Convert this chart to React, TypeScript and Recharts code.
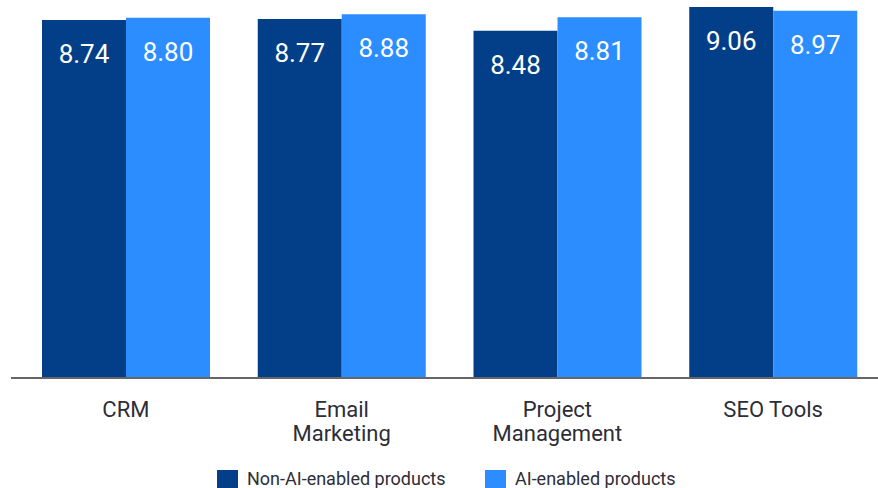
import React from 'react';
import { BarChart, Bar, XAxis, YAxis, Legend, LabelList } from 'recharts';

const categories = ['CRM', 'Email Marketing', 'Project Management', 'SEO Tools'];
const nonAiScores = [8.74, 8.77, 8.48, 9.06];
const aiScores = [8.8, 8.88, 8.81, 8.97];
const seriesNames = ['Non-AI-enabled products', 'AI-enabled products'];

const DARK = '#023f88';
const LIGHT = '#2b8dff';
const TEXT = '#2d2d38';
const FONT = 'Roboto, "Noto Sans", sans-serif';

const data = categories.map((name, i) => ({
  name,
  nonAi: nonAiScores[i],
  ai: aiScores[i]
}));

function CategoryTick(props: any) {
  const { x, y, payload } = props;
  const words = String(payload.value).split(' ');
  const lines = words.length > 1 && payload.value !== 'SEO Tools' ? words : [payload.value];
  return (
    <text x={x} y={y} textAnchor="middle" fill={TEXT} fontSize={22} fontFamily={FONT}>
      {lines.map((l: string, i: number) => (
        <tspan key={i} x={x} dy={i === 0 ? 39 : 24}>
          {l}
        </tspan>
      ))}
    </text>
  );
}

function ValueLabel(props: any) {
  const { x, y, width, value } = props;
  return (
    <text
      x={x + width / 2}
      y={y + 34}
      textAnchor="middle"
      dominantBaseline="central"
      fill="#ffffff"
      fontSize={26}
      fontFamily={FONT}
    >
      {Number(value).toFixed(2)}
    </text>
  );
}

function ChartLegend() {
  const items = [
    { label: seriesNames[0], color: DARK, width: 268 },
    { label: seriesNames[1], color: LIGHT, width: 220 }
  ];
  return (
    <div
      style={{
        display: 'flex',
        height: 36,
        paddingTop: 18,
        paddingLeft: 217,
        boxSizing: 'border-box'
      }}
    >
      {items.map((it) => (
        <div key={it.label} style={{ display: 'flex', alignItems: 'flex-start', width: it.width }}>
          <span style={{ width: 21, height: 21, background: it.color, marginRight: 9, flexShrink: 0 }} />
          <span style={{ fontFamily: FONT, fontSize: 18, color: TEXT, lineHeight: '21px', marginTop: -2, whiteSpace: 'nowrap' }}>
            {it.label}
          </span>
        </div>
      ))}
    </div>
  );
}

export default function App() {
  return (
    <div style={{ position: 'fixed', left: 0, top: 0, width: 878, height: 488, overflow: 'hidden', background: '#fff' }}>
      <BarChart
        width={900}
        height={488}
        data={data}
        margin={{ top: 7, right: 19, bottom: 0, left: 11 }}
        barGap={0}
        barCategoryGap={24}
      >
        <XAxis
          dataKey="name"
          interval={0}
          tickLine={false}
          tickSize={0}
          tickMargin={0}
          height={74}
          padding={{ left: 7, right: 0 }}
          axisLine={{ stroke: '#666666', strokeWidth: 2 }}
          tick={<CategoryTick />}
        />
        <YAxis hide domain={[0, 'dataMax']} />
        <Legend verticalAlign="bottom" content={<ChartLegend />} wrapperStyle={{ left: 0, width: 878 }} />
        <Bar dataKey="nonAi" name={seriesNames[0]} fill={DARK} isAnimationActive={false}>
          <LabelList dataKey="nonAi" content={<ValueLabel />} />
        </Bar>
        <Bar dataKey="ai" name={seriesNames[1]} fill={LIGHT} isAnimationActive={false}>
          <LabelList dataKey="ai" content={<ValueLabel />} />
        </Bar>
      </BarChart>
    </div>
  );
}
